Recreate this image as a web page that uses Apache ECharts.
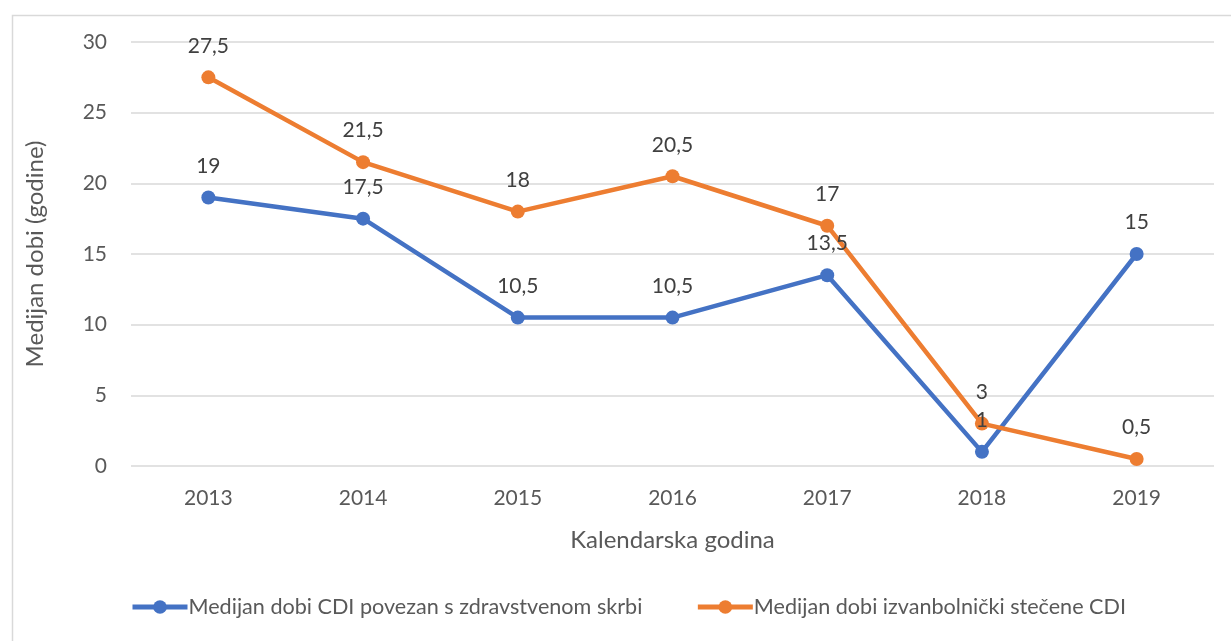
<!DOCTYPE html>
<html>
<head>
<meta charset="utf-8">
<script src="https://cdn.jsdelivr.net/npm/echarts@6/dist/echarts.min.js"></script>
<style>
  html, body { margin: 0; padding: 0; background: #fff; }
  #chart { width: 1231px; height: 641px; }
</style>
</head>
<body>
<div id="chart"></div>
<script>
const years = ['2013', '2014', '2015', '2016', '2017', '2018', '2019'];
const healthcareMedian = [19, 17.5, 10.5, 10.5, 13.5, 1, 15];
const communityMedian = [27.5, 21.5, 18, 20.5, 17, 3, 0.5];
const seriesNames = [
  'Medijan dobi CDI povezan s zdravstvenom skrbi',
  'Medijan dobi izvanbolnički stečene CDI'
];

const chart = echarts.init(document.getElementById('chart'));
const font = 'Lato, "Open Sans", sans-serif';
const fmt = p => String(p.value).replace('.', ',');

const lineSeries = (name, data, color) => ({
  name,
  type: 'line',
  data,
  symbol: 'circle',
  symbolSize: 14,
  lineStyle: { width: 4.5, color },
  itemStyle: { color },
  label: {
    show: true,
    position: 'top',
    distance: 14,
    color: '#404040',
    fontSize: 21,
    fontFamily: font,
    formatter: fmt
  }
});

chart.setOption({
  animation: false,
  graphic: [{
    type: 'rect',
    left: 10,
    top: 13,
    shape: { width: 1240, height: 700 },
    style: { fill: 'none', stroke: '#d9d9d9', lineWidth: 1.5 },
    silent: true
  }],
  grid: { left: 131, right: 17, top: 42, bottom: 175 },
  legend: {
    bottom: 18,
    left: 125,
    itemWidth: 55,
    itemHeight: 17,
    itemGap: 53,
    lineStyle: { width: 5 },
    textStyle: { color: '#595959', fontSize: 21.6, fontFamily: font, padding: [0, 0, 0, -4] },
    data: seriesNames
  },
  xAxis: {
    type: 'category',
    data: years,
    name: 'Kalendarska godina',
    nameLocation: 'middle',
    nameGap: 62,
    nameTextStyle: { color: '#595959', fontSize: 24, fontFamily: font },
    axisLine: { show: false },
    axisTick: { show: false },
    axisLabel: { color: '#595959', fontSize: 21, fontFamily: font, margin: 22 }
  },
  yAxis: {
    type: 'value',
    min: 0,
    max: 30,
    interval: 5,
    name: 'Medijan dobi (godine)',
    nameLocation: 'middle',
    nameGap: 84,
    nameTextStyle: { color: '#595959', fontSize: 24, fontFamily: font },
    axisLabel: { color: '#595959', fontSize: 21, fontFamily: font, margin: 24 },
    splitLine: { lineStyle: { color: '#d9d9d9', width: 1.5 } }
  },
  series: [
    lineSeries(seriesNames[0], healthcareMedian, '#4472C4'),
    lineSeries(seriesNames[1], communityMedian, '#ED7D31')
  ]
});
</script>
</body>
</html>
